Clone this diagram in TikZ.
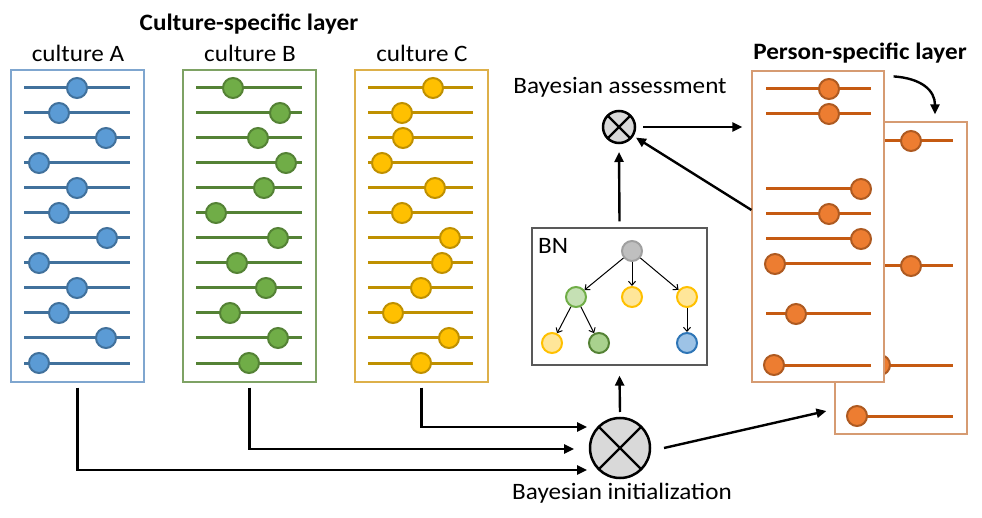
\documentclass[tikz,border=0pt]{standalone}
\usepackage{fontspec}
\setmainfont{Carlito}[FakeStretch=1.07]
\usetikzlibrary{arrows.meta,calc}

% palette
\definecolor{blueline}{HTML}{41719C}
\definecolor{bluefill}{HTML}{5B9BD5}
\definecolor{blueframe}{HTML}{7FA6CF}
\definecolor{greenline}{HTML}{548235}
\definecolor{greenfill}{HTML}{70AD47}
\definecolor{greenframe}{HTML}{7EA264}
\definecolor{goldline}{HTML}{BF9000}
\definecolor{goldfill}{HTML}{FFC000}
\definecolor{goldframe}{HTML}{DDB04A}
\definecolor{orangeline}{HTML}{C55A11}
\definecolor{orangefill}{HTML}{ED7D31}
\definecolor{orangeedge}{HTML}{AE5A21}
\definecolor{orangeframe}{HTML}{D69B72}
\definecolor{opgray}{HTML}{D9D9D9}
\definecolor{bnframe}{HTML}{595959}
\definecolor{bngrayfill}{HTML}{BFBFBF}
\definecolor{bngrayedge}{HTML}{A0A0A0}
\definecolor{bnlgreenfill}{HTML}{C5E0B4}
\definecolor{bnlgreenedge}{HTML}{70AD47}
\definecolor{bnyellowfill}{HTML}{FFE699}
\definecolor{bnyellowedge}{HTML}{FFC000}
\definecolor{bndgreenfill}{HTML}{A9D18E}
\definecolor{bndgreenedge}{HTML}{548235}
\definecolor{bnbluefill}{HTML}{9DC3E6}
\definecolor{bnblueedge}{HTML}{2E75B6}

\begin{document}
\begin{tikzpicture}[x=1pt,y=-1pt,
  lbl/.style={font=\fontsize{23.5}{28}\selectfont, inner sep=0pt},
  ttl/.style={font=\fontsize{23.5}{28}\selectfont\bfseries, inner sep=0pt},
  panel/.style={draw=#1, line width=1.2pt, fill=white, inner sep=0pt,
    minimum width=133pt, minimum height=312pt},
  sline/.style={draw=#1, line width=3pt},
  sball/.style 2 args={fill=#1, draw=#2, line width=2pt},
  conn/.style={line width=2.4pt, -{Triangle[length=10pt,width=9pt]}},
  opnode/.style={circle, fill=opgray, draw=black, line width=2.5pt,
    inner sep=0pt, outer sep=0pt, minimum size=#1},
  bnnode/.style 2 args={circle, fill=#1, draw=#2, line width=2pt,
    inner sep=0pt, minimum size=20pt},
  bnedge/.style={line width=1pt, -{Straight Barb[length=4pt,width=7pt]}}
]
\useasboundingbox (0,0) rectangle (982,518);

% ---------- titles ----------
\node[ttl] (tCult) at (249,24) {Culture-specific layer};
\node[lbl] (tA) at (78,53) {culture A};
\node[lbl] (tB) at (250,53) {culture B};
\node[lbl] (tC) at (422,53) {culture C};
\node[ttl] (tPers) at (860,53) {Person-specific layer};
\node[lbl] (tAss) at (620,87) {Bayesian assessment};
\node[lbl] (tInit) at (622,493) {Bayesian initialization};

% ---------- culture panels ----------
\node[panel=blueframe]  (pA) at (77.5,226) {};
\node[panel=greenframe] (pB) at (249.5,226) {};
\node[panel=goldframe]  (pC) at (421.5,226) {};

\foreach \bx [count=\i from 0] in {77,59,106,39,77,59,107,39,77,59,106,39} {
  \draw[sline=blueline] (24,{88+25*\i}) -- (130,{88+25*\i});
  \draw[sball={bluefill}{blueline}] (\bx,{88+25*\i}) circle[radius=10];
}
\foreach \bx [count=\i from 0] in {233,280,258,286,264,216,278,237,266,230,278,249} {
  \draw[sline=greenline] (196,{88+25*\i}) -- (302,{88+25*\i});
  \draw[sball={greenfill}{greenline}] (\bx,{88+25*\i}) circle[radius=10];
}
\foreach \bx [count=\i from 0] in {433,402,403,382,435,402,450,442,421,393,449,421} {
  \draw[sline=goldline] (368,{88+25*\i}) -- (473,{88+25*\i});
  \draw[sball={goldfill}{goldline}] (\bx,{88+25*\i}) circle[radius=10];
}

% ---------- person-specific layer (back sheet, then front sheet) ----------
\node[draw=orangeframe, line width=1.2pt, fill=white, inner sep=0pt,
  minimum width=132pt, minimum height=312pt] (pb) at (901,278) {};
\foreach \y/\bx in {141/911, 266/911, 365/880, 416/857} {
  \draw[sline=orangeline] (849,\y) -- (953,\y);
  \draw[sball={orangefill}{orangeedge}] (\bx,\y) circle[radius=10];
}
\node[draw=orangeframe, line width=1.2pt, fill=white, inner sep=0pt,
  minimum width=132pt, minimum height=311pt] (pf) at (818,226.5) {};
\foreach \y/\bx in {89/829, 114/829, 189/861, 214/829, 239/861, 264/775, 314/796, 365/774} {
  \draw[sline=orangeline] (766,\y) -- (871,\y);
  \draw[sball={orangefill}{orangeedge}] (\bx,\y) circle[radius=10];
}

% ---------- Bayesian network ----------
\node[draw=bnframe, line width=1.2pt, inner sep=0pt,
  minimum width=175pt, minimum height=137pt] (bn) at (619.5,296.5) {};
\node[lbl, anchor=west] (tBN) at (538,246) {BN};
\node[bnnode={bngrayfill}{bngrayedge}]     (n0) at (632,251) {};
\node[bnnode={bnlgreenfill}{bnlgreenedge}] (n1) at (576,297) {};
\node[bnnode={bnyellowfill}{bnyellowedge}] (n2) at (632,297) {};
\node[bnnode={bnyellowfill}{bnyellowedge}] (n3) at (687,297) {};
\node[bnnode={bnyellowfill}{bnyellowedge}] (n4) at (552,343) {};
\node[bnnode={bndgreenfill}{bndgreenedge}] (n5) at (599,343) {};
\node[bnnode={bnbluefill}{bnblueedge}]     (n6) at (687,343) {};
\draw[bnedge] (n0) -- (n1);
\draw[bnedge] (n0) -- (n2);
\draw[bnedge] (n0) -- (n3);
\draw[bnedge] (n1) -- (n4);
\draw[bnedge] (n1) -- (n5);
\draw[bnedge] (n3) -- (n6);

% ---------- combination operators ----------
\node[opnode=32pt] (assess) at (619,127) {};
\draw[line width=2.2pt] (assess.north west) -- (assess.south east);
\draw[line width=2.2pt] (assess.north east) -- (assess.south west);
\node[opnode=60pt] (init) at (620,448) {};
\draw[line width=2.2pt] (init.north west) -- (init.south east);
\draw[line width=2.2pt] (init.north east) -- (init.south west);

% ---------- connectors ----------
\coordinate (inA) at ($(init.center)+(-33,22)$);
\coordinate (inB) at ($(init.center)+(-46,1)$);
\coordinate (inC) at ($(init.center)+(-33,-21)$);
\draw[conn] ([yshift=-5pt]pA.south) |- (inA);
\draw[conn] ([yshift=-5pt]pB.south) |- (inB);
\draw[conn] ([yshift=-5pt]pC.south) |- (inC);

\draw[conn] ([yshift=6pt]init.north) -- ([yshift=-10pt]bn.south);
\draw[conn] ([yshift=6pt]bn.north) -- ([yshift=-9pt]assess.south);

\coordinate (aIn) at ($(pf.west |- assess.east)+(-9,0)$);
\draw[conn] ([xshift=8pt]assess.east) -- (aIn);
\draw[conn, shorten >=4pt] ([yshift=16.5pt]pf.west) -- (assess);

\coordinate (bIn) at ($(pb.west)+(-8,133)$);
\draw[conn] ([xshift=14pt]init.east) -- (bIn);

\coordinate (cS) at ($(pf.north east)+(9,6)$);
\coordinate (cE) at ($(pb.north)+(34,-7)$);
\draw[conn] (cS) .. controls ($(cS)+(28,2)$) and ($(cE)+(0,-24)$) .. (cE);
\end{tikzpicture}
\end{document}
